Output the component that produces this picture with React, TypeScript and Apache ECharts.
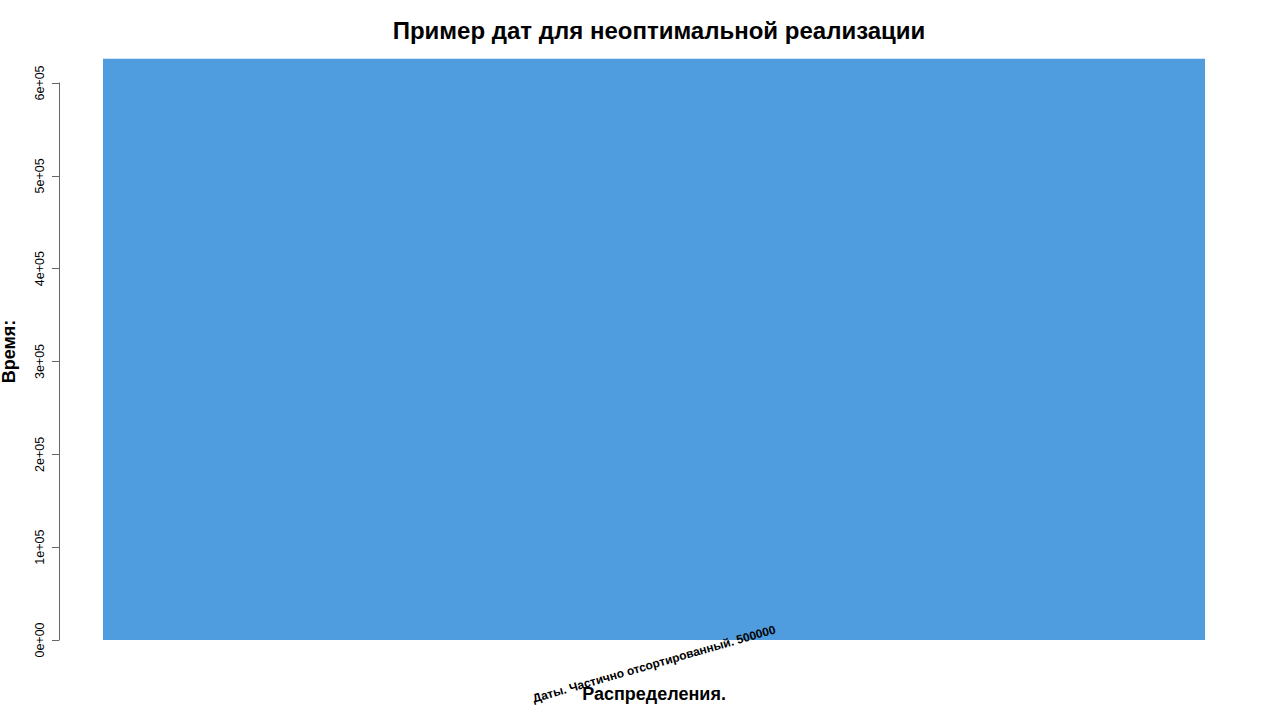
import React, { useEffect, useRef } from "react";
import * as echarts from "echarts";

const categories = ["Даты. Частично отсортированный. 500000"];
const timeValues = [626000];
const yTicksMin = 0;
const yTicksMax = 600000;
const yTicksStep = 100000;

const FONT = '"Liberation Sans", Arial, Helvetica, sans-serif';

function rExp(v: number): string {
  if (v === 0) return "0e+00";
  const e = Math.floor(Math.log10(Math.abs(v)));
  const m = Math.round(v / Math.pow(10, e));
  const es = (e < 10 ? "0" : "") + e;
  return `${m}e+${es}`;
}

export default function App() {
  const ref = useRef<HTMLDivElement>(null);
  useEffect(() => {
    if (!ref.current) return;
    const chart = echarts.init(ref.current, undefined, { renderer: "svg" });
    chart.setOption({
      animation: false,
      backgroundColor: "#ffffff",
      textStyle: { fontFamily: FONT },
      title: {
        text: "Пример дат для неоптимальной реализации",
        left: 654,
        top: 13,
        textAlign: "center",
        textStyle: { fontFamily: FONT, fontSize: 24, fontWeight: "bold", color: "#000" },
      },
      grid: {
        left: 103,
        right: 75,
        top: 83,
        bottom: 80,
        containLabel: false,
        outerBoundsMode: "none",
      },
      xAxis: {
        type: "category",
        data: categories,
        boundaryGap: true,
        z: 5,
        axisLine: { show: false },
        axisTick: { show: false },
        axisLabel: {
          rotate: 16,
          align: "center",
          verticalAlign: "middle",
          margin: 24,
          fontFamily: FONT,
          fontSize: 12,
          fontWeight: "bold",
          color: "#000",
        },
        name: "Распределения.",
        nameLocation: "middle",
        nameGap: 45,
        nameMoveOverlap: false,
        nameTextStyle: { fontFamily: FONT, fontSize: 18, fontWeight: "bold", color: "#000" },
      },
      yAxis: {
        type: "value",
        min: yTicksMin,
        max: yTicksMax,
        interval: yTicksStep,
        offset: 44,
        splitLine: { show: false },
        axisLine: { show: true, lineStyle: { color: "#666", width: 1 } },
        axisTick: { show: true, length: 7, lineStyle: { color: "#666" } },
        axisLabel: {
          rotate: 90,
          margin: 13,
          fontFamily: FONT,
          fontSize: 12.5,
          color: "#000",
          formatter: (v: number) => rExp(v),
        },
        name: "Время:",
        nameLocation: "middle",
        nameRotate: 90,
        nameGap: 41,
        nameMoveOverlap: false,
        nameTextStyle: {
          fontFamily: FONT,
          fontSize: 18,
          fontWeight: "bold",
          color: "#000",
          padding: [0, 0, 0, 20],
        },
      },
      series: [
        {
          type: "bar",
          data: timeValues,
          barWidth: "100%",
          clip: false,
          z: 2,
          itemStyle: { color: "#4f9ddf" },
          silent: true,
        },
      ],
    });
    return () => chart.dispose();
  }, []);
  return (
    <div
      ref={ref}
      style={{ position: "absolute", left: 0, top: 0, width: 1280, height: 720 }}
    />
  );
}
